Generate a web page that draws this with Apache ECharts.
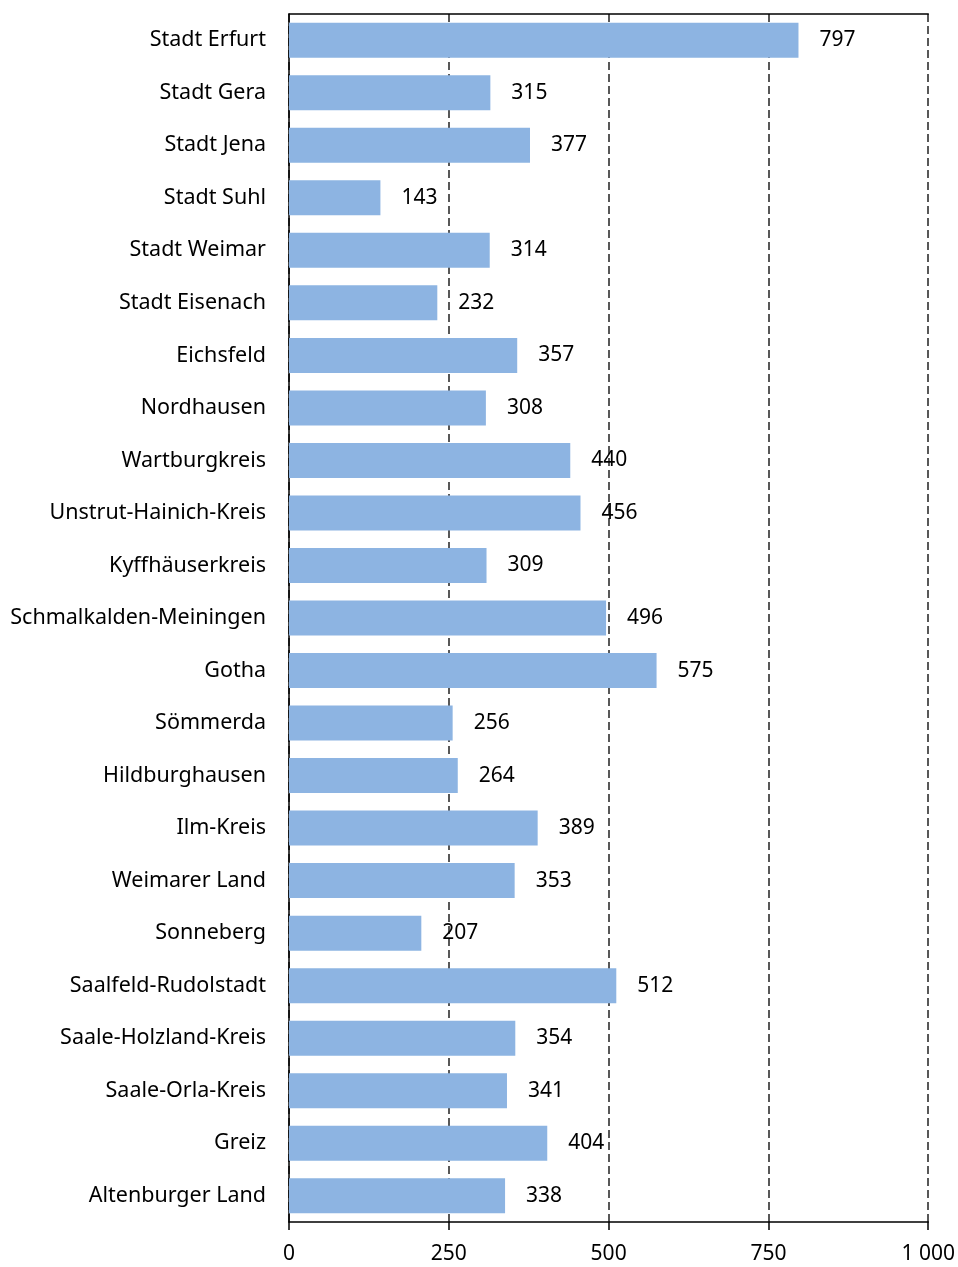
<!DOCTYPE html>
<html>
<head>
<meta charset="utf-8">
<script src="https://cdn.jsdelivr.net/npm/echarts@6/dist/echarts.min.js"></script>
<style>
  html, body { margin: 0; padding: 0; background: #fff; }
  #main { width: 958px; height: 1267px; }
</style>
</head>
<body>
<div id="main"></div>
<script>
const regions = ['Stadt Erfurt', 'Stadt Gera', 'Stadt Jena', 'Stadt Suhl', 'Stadt Weimar',
  'Stadt Eisenach', 'Eichsfeld', 'Nordhausen', 'Wartburgkreis', 'Unstrut-Hainich-Kreis',
  'Kyffhäuserkreis', 'Schmalkalden-Meiningen', 'Gotha', 'Sömmerda', 'Hildburghausen',
  'Ilm-Kreis', 'Weimarer Land', 'Sonneberg', 'Saalfeld-Rudolstadt', 'Saale-Holzland-Kreis',
  'Saale-Orla-Kreis', 'Greiz', 'Altenburger Land'];
const values = [797, 315, 377, 143, 314, 232, 357, 308, 440, 456, 309, 496, 575, 256, 264,
  389, 353, 207, 512, 354, 341, 404, 338];
const ticks = [0, 250, 500, 750, 1000];

const font = 'Noto Sans';
let chart = echarts.init(document.getElementById('main'));
chart.setOption({
  animation: false,
  textStyle: { fontFamily: font },
  grid: { left: 289, right: 29, top: 14, bottom: 45 },
  xAxis: [{
    type: 'value',
    min: ticks[0],
    max: ticks[ticks.length - 1],
    interval: 250,
    axisLine: { show: true, lineStyle: { color: '#000', width: 1.5 } },
    axisTick: { show: true, length: 8, lineStyle: { color: '#000', width: 1.5 } },
    axisLabel: {
      color: '#000', fontSize: 21, margin: 22,
      formatter: v => v >= 1000 ? String(v).replace(/(\d)(\d{3})$/, '$1 $2') : String(v)
    },
    splitLine: { show: true, lineStyle: { color: '#222', width: 1.5, type: [8, 4] } }
  }, {
    type: 'value',
    position: 'top',
    min: 0, max: 1000,
    axisLine: { show: true, lineStyle: { color: '#000', width: 1.5 } },
    axisTick: { show: false },
    axisLabel: { show: false },
    splitLine: { show: false }
  }],
  yAxis: {
    type: 'category',
    data: regions,
    inverse: true,
    axisLine: { show: true, lineStyle: { color: '#000', width: 1.5 } },
    axisTick: { show: false },
    axisLabel: { color: '#000', fontSize: 21.5, margin: 23, padding: [4, 0, 0, 0] }
  },
  series: [{
    type: 'bar',
    data: values,
    barWidth: 35,
    itemStyle: { color: '#8DB4E2' },
    label: {
      show: true, position: 'right', distance: 21, padding: [4, 0, 0, 0],
      color: '#000', fontSize: 21, fontFamily: font
    }
  }]
});
</script>
</body>
</html>
